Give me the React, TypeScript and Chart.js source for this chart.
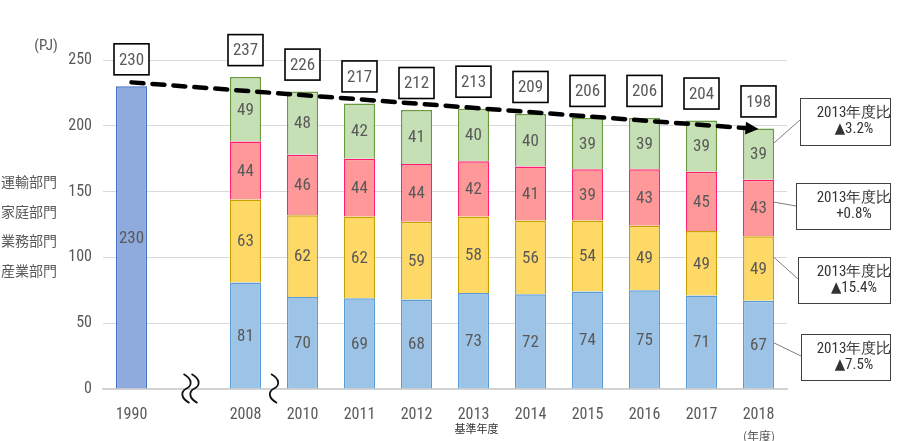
import { useEffect, useRef } from "react";
import { Chart, registerables } from "chart.js";

Chart.register(...registerables);

const categories = ["1990", "", "2008", "2010", "2011", "2012", "2013", "2014", "2015", "2016", "2017", "2018"];
const base1990 = [230, null, null, null, null, null, null, null, null, null, null, null];
const industry = [null, null, 81, 70, 69, 68, 73, 72, 74, 75, 71, 67];
const business = [null, null, 63, 62, 62, 59, 58, 56, 54, 49, 49, 49];
const household = [null, null, 44, 46, 44, 44, 42, 41, 39, 43, 45, 43];
const transport = [null, null, 49, 48, 42, 41, 40, 40, 39, 39, 39, 39];
const totals = [230, null, 237, 226, 217, 212, 213, 209, 206, 206, 204, 198];
const trend = [233, null, null, null, null, null, null, null, null, null, null, 197.5];
const yTicks = [0, 50, 100, 150, 200, 250];
const sectorNames = ["運輸部門", "家庭部門", "業務部門", "産業部門"];
const calloutLines = [
  ["2013年度比", "▲3.2%"],
  ["2013年度比", "+0.8%"],
  ["2013年度比", "▲15.4%"],
  ["2013年度比", "▲7.5%"],
];
const calloutAnchors = [187, 142, 100, 35];

const NARROW = "'Liberation Sans Narrow', 'Arial Narrow', 'Roboto Condensed', 'DejaVu Sans Condensed', sans-serif";
const CJK = "'Noto Sans CJK JP', 'Noto Sans', sans-serif";

// annotation geometry (pixels)
const calloutBoxes = [
  { x: 800, y: 98, w: 90, h: 47, lx: 800, ly: 120 },
  { x: 796, y: 183, w: 94, h: 46, lx: 796, ly: 206 },
  { x: 798, y: 257, w: 92, h: 46, lx: 798, ly: 279 },
  { x: 801, y: 334, w: 89, h: 46, lx: 801, ly: 356 },
];

const decorPlugin = {
  id: "decor",
  afterDatasetsDraw(chart: any) {
    const ctx = chart.ctx;
    const ys = chart.scales.y;
    const xs = chart.scales.x;
    ctx.save();

    // segment labels
    ctx.font = `17px ${NARROW}`;
    ctx.fillStyle = "#595959";
    ctx.textAlign = "center";
    ctx.textBaseline = "middle";
    for (let d = 0; d < 5; d++) {
      const meta = chart.getDatasetMeta(d);
      const data = chart.data.datasets[d].data;
      meta.data.forEach((el: any, i: number) => {
        const v = data[i];
        if (v == null) return;
        ctx.fillText(String(v), el.x, (el.y + el.base) / 2 + 1);
      });
    }

    // total boxes
    totals.forEach((t, i) => {
      if (t == null) return;
      const cx = xs.getPixelForValue(i);
      const top = ys.getPixelForValue(t);
      const cy = top - 27;
      const w = 35, h = 31;
      ctx.fillStyle = "#ffffff";
      ctx.fillRect(cx - w / 2, cy - h / 2, w, h);
      ctx.strokeStyle = "#000000";
      ctx.lineWidth = 1.6;
      ctx.strokeRect(cx - w / 2, cy - h / 2, w, h);
      ctx.fillStyle = "#595959";
      ctx.font = `17px ${NARROW}`;
      ctx.fillText(String(t), cx, cy + 1);
    });

    // arrow head on trend
    const lm = chart.getDatasetMeta(5);
    const pts = lm.data.filter((p: any, i: number) => trend[i] != null);
    if (pts.length >= 2) {
      const a = pts[0], b = pts[pts.length - 1];
      const ang = Math.atan2(b.y - a.y, b.x - a.x);
      const L = 13, W = 6.5;
      ctx.fillStyle = "#000";
      ctx.beginPath();
      ctx.moveTo(b.x, b.y);
      ctx.lineTo(b.x - L * Math.cos(ang) + W * Math.sin(ang), b.y - L * Math.sin(ang) - W * Math.cos(ang));
      ctx.lineTo(b.x - L * Math.cos(ang) - W * Math.sin(ang), b.y - L * Math.sin(ang) + W * Math.cos(ang));
      ctx.closePath();
      ctx.fill();
    }

    // break marks
    const axisY = ys.getPixelForValue(0);
    const wave = (x: number) => {
      const top = axisY - 15, bot = axisY + 14, mid = (top + bot) / 2;
      ctx.beginPath();
      ctx.moveTo(x - 3, top);
      ctx.bezierCurveTo(x + 6, top + 5, x + 6, mid - 3, x, mid);
      ctx.bezierCurveTo(x - 6, mid + 3, x - 6, bot - 5, x + 3, bot);
      ctx.stroke();
    };
    ctx.strokeStyle = "#111";
    ctx.lineWidth = 1.8;
    const gapX = xs.getPixelForValue(1);
    wave(gapX - 2);
    wave(gapX + 6);
    wave((xs.getPixelForValue(2) + xs.getPixelForValue(3)) / 2);

    // callouts
    const last = chart.getDatasetMeta(1).data[11];
    const barRight = last.x + last.width / 2;
    calloutBoxes.forEach((b, i) => {
      ctx.strokeStyle = "#7f7f7f";
      ctx.lineWidth = 1;
      ctx.beginPath();
      ctx.moveTo(barRight, ys.getPixelForValue(calloutAnchors[i]));
      ctx.lineTo(b.lx, b.ly);
      ctx.stroke();
      ctx.fillStyle = "#fff";
      ctx.fillRect(b.x, b.y, b.w, b.h);
      ctx.strokeStyle = "#404040";
      ctx.strokeRect(b.x + 0.5, b.y + 0.5, b.w, b.h);
      ctx.fillStyle = "#333";
      ctx.font = `15px ${NARROW}`;
      const tx = 854;
      const cy = b.y + b.h / 2;
      ctx.fillText(calloutLines[i][0], tx, cy - 8);
      ctx.fillText(calloutLines[i][1], tx, cy + 8);
    });

    // left texts
    ctx.textAlign = "left";
    ctx.fillStyle = "#595959";
    ctx.font = `14px ${CJK}`;
    const ly = [182, 212, 241, 271];
    sectorNames.forEach((n, i) => ctx.fillText(n, 1, ly[i]));
    ctx.font = `15px ${NARROW}`;
    ctx.textAlign = "center";
    ctx.fillText("(PJ)", 46, 46);

    ctx.fillStyle = "#333";
    ctx.font = `11px ${CJK}`;
    ctx.fillText("基準年度", xs.getPixelForValue(6) + 3, 429);
    ctx.font = `12px ${CJK}`;
    ctx.fillStyle = "#595959";
    ctx.fillText("(年度)", 759, 436);

    ctx.restore();
  },
};

export default function App() {
  const ref = useRef<HTMLCanvasElement>(null);
  useEffect(() => {
    document.body.style.margin = "0";
    const barCommon = { categoryPercentage: 1, barPercentage: 0.545, borderWidth: 1.5, order: 1, stack: "s" };
    const chart = new Chart(ref.current!, {
      type: "bar",
      data: {
        labels: categories,
        datasets: [
          { ...barCommon, label: "1990", data: base1990, backgroundColor: "#8FAADC", borderColor: "#4472C4" } as any,
          { ...barCommon, label: "産業部門", data: industry, backgroundColor: "#9DC3E6", borderColor: "#5B9BD5" },
          { ...barCommon, label: "業務部門", data: business, backgroundColor: "#FFD966", borderColor: "#C9A000" },
          { ...barCommon, label: "家庭部門", data: household, backgroundColor: "#FF9999", borderColor: "#FF1F6E" },
          { ...barCommon, label: "運輸部門", data: transport, backgroundColor: "#C5E0B4", borderColor: "#6A9A40" },
          {
            type: "line",
            label: "trend",
            data: trend,
            spanGaps: true,
            borderColor: "#000",
            borderWidth: 4.5,
            borderDash: [12, 9],
            borderCapStyle: "round",
            pointRadius: 0,
            order: 0,
            stack: "trend",
          } as any,
        ],
      },
      options: {
        responsive: false,
        animation: false,
        layout: { padding: { top: 60, right: 132, left: 0, bottom: 0 } },
        plugins: { legend: { display: false }, tooltip: { enabled: false } },
        scales: {
          x: {
            stacked: true,
            grid: { display: false },
            border: { display: true, color: "#D0D0D0", width: 1.5 },
            ticks: { autoSkip: false, maxRotation: 0, padding: 8, color: "#595959", font: { family: NARROW, size: 16 } },
            afterFit: (s: any) => { s.height = 52; },
          },
          y: {
            stacked: true,
            min: 0,
            max: 250,
            afterBuildTicks: (s: any) => { s.ticks = yTicks.map((v) => ({ value: v })); },
            grid: { color: "#D9D9D9", drawTicks: false, lineWidth: 1 },
            border: { display: false },
            ticks: { padding: 11, color: "#595959", font: { family: NARROW, size: 16 } },
            afterFit: (s: any) => { s.width = 103; },
          },
        },
      },
      plugins: [decorPlugin],
    });
    return () => chart.destroy();
  }, []);
  return (
    <div style={{ position: "absolute", left: 0, top: 0 }}>
      <canvas ref={ref} width={919} height={441} />
    </div>
  );
}
